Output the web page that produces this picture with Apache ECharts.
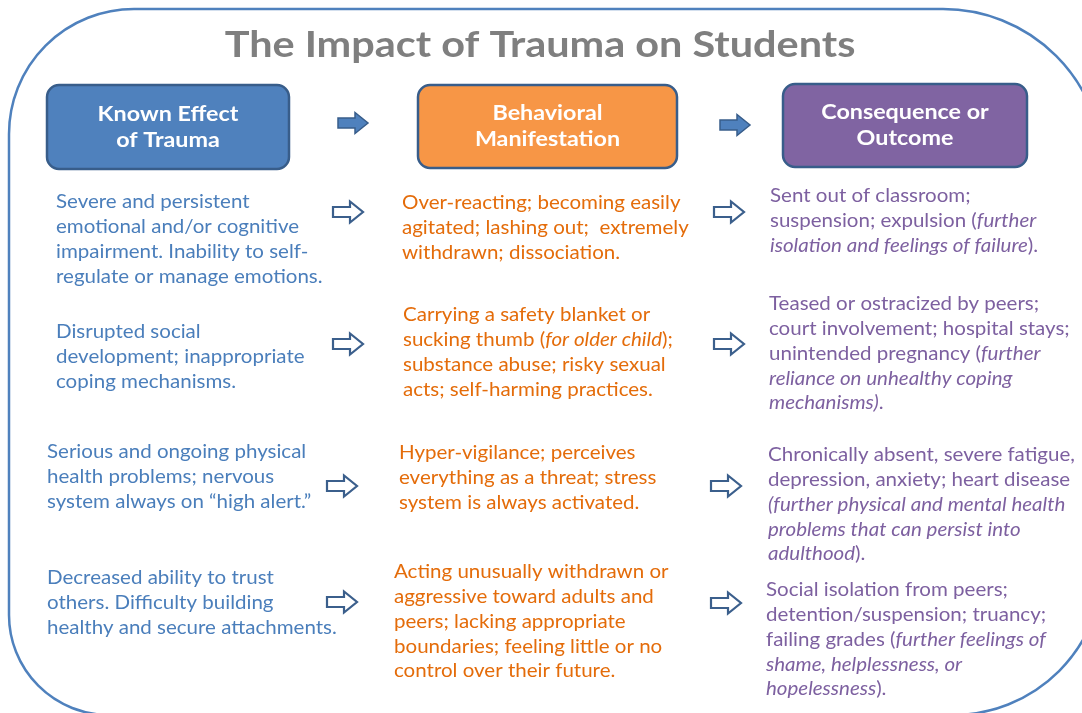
<!DOCTYPE html>
<html>
<head>
<meta charset="utf-8">
<script src="https://cdn.jsdelivr.net/npm/echarts@6/dist/echarts.min.js"></script>
<style>
html,body{margin:0;padding:0;background:#ffffff;}
#chart{width:1082px;height:713px;}
</style>
</head>
<body>
<div id="chart"></div>
<script>
// ---------- content ----------
const TITLE = "The Impact of Trauma on Students";
const HEADERS = [
  ["Known Effect", "of Trauma"],
  ["Behavioral", "Manifestation"],
  ["Consequence or", "Outcome"]
];
// {i|...} marks italic segments
const EFFECTS = [
  ["Severe and persistent", "emotional and/or cognitive", "impairment. Inability to self-", "regulate or manage emotions."],
  ["Disrupted social", "development; inappropriate", "coping mechanisms."],
  ["Serious and ongoing physical", "health problems; nervous", "system always on \u201chigh alert.\u201d"],
  ["Decreased ability to trust", "others. Difficulty building", "healthy and secure attachments."]
];
const BEHAVIORS = [
  ["Over-reacting; becoming easily", "agitated; lashing out;  extremely", "withdrawn; dissociation."],
  ["Carrying a safety blanket or", "sucking thumb ({i|for older child});", "substance abuse; risky sexual", "acts; self-harming practices."],
  ["Hyper-vigilance; perceives", "everything as a threat; stress", "system is always activated."],
  ["Acting unusually withdrawn or", "aggressive toward adults and", "peers; lacking appropriate", "boundaries; feeling little or no", "control over their future."]
];
const CONSEQUENCES = [
  ["Sent out of classroom;", "suspension; expulsion ({i|further}", "{i|isolation and feelings of failure})."],
  ["Teased or ostracized by peers;", "court involvement; hospital stays;", "unintended pregnancy ({i|further}", "{i|reliance on unhealthy coping}", "{i|mechanisms)}."],
  ["Chronically absent, severe fatigue,", "depression, anxiety; heart disease", "{i|(further physical and mental health}", "{i|problems that can persist into}", "{i|adulthood})."],
  ["Social isolation from peers;", "detention/suspension; truancy;", "failing grades ({i|further feelings of}", "{i|shame, helplessness, or}", "{i|hopelessness})."]
];
const COLUMNS = [EFFECTS, BEHAVIORS, CONSEQUENCES];

// ---------- layout & style ----------
const COLORS = {
  frame: '#4f81bd', title: '#7f7f7f',
  boxFill: ['#4f81bd', '#f79646', '#8064a2'], boxStroke: '#385d8a',
  text: ['#4a7ebb', '#e46c0a', '#7d60a0'], arrow: '#3b5f8c'
};
const BOXES = [[47, 85, 242, 84], [418, 85, 259, 83], [783, 84, 244, 83]];
const HEADER_ARROWS = [[338, 123], [720, 125]];
const COL_X = [[56, 56, 47, 47], [402, 403, 399, 394], [770, 769, 768, 766]];
const ROW_Y = [[202, 332, 452, 578], [203, 315, 453, 572], [196, 304, 455, 590]];
const LINE_H = 24.8;
const ROW_ARROWS = [
  [[333, 212], [333, 344], [327, 486], [327, 602]],
  [[714, 212], [714, 344], [711, 486], [711, 603]]
];
const FONT = 'Lato, "Open Sans", sans-serif';
const TITLE_SCALE = 1.15, HEAD_SCALE = 1.11, BODY_SCALE = 1.08;

function arrowPoints(x, cy) {
  return [[x, cy - 5], [x + 17, cy - 5], [x + 17, cy - 10.5], [x + 30, cy],
          [x + 17, cy + 10.5], [x + 17, cy + 5], [x, cy + 5]];
}

const graphic = [];
// frame
graphic.push({
  type: 'rect', shape: { x: 9, y: 9, width: 1094, height: 706, r: [125, 160, 150, 100] },
  style: { fill: 'none', stroke: COLORS.frame, lineWidth: 2.5 }, silent: true
});
// title
graphic.push({
  type: 'text', x: 540, y: 45, scaleX: TITLE_SCALE,
  style: { text: TITLE, fill: COLORS.title, font: 'bold 36px ' + FONT, align: 'center', verticalAlign: 'middle' }
});
// header boxes
BOXES.forEach((b, i) => {
  graphic.push({
    type: 'rect', shape: { x: b[0], y: b[1], width: b[2], height: b[3], r: 12 },
    style: { fill: COLORS.boxFill[i], stroke: COLORS.boxStroke, lineWidth: 2.5 }
  });
  HEADERS[i].forEach((ln, k) => {
    graphic.push({
      type: 'text', x: b[0] + b[2] / 2, y: b[1] + b[3] / 2 - 13 + k * 26, scaleX: HEAD_SCALE,
      style: { text: ln, fill: '#ffffff', font: 'bold 21px ' + FONT, align: 'center', verticalAlign: 'middle' }
    });
  });
});
// header arrows (filled)
HEADER_ARROWS.forEach(a => {
  graphic.push({
    type: 'polygon', shape: { points: arrowPoints(a[0], a[1]) },
    style: { fill: COLORS.frame, stroke: COLORS.boxStroke, lineWidth: 1.5 }
  });
});
// row arrows (hollow)
ROW_ARROWS.forEach(col => col.forEach(a => {
  graphic.push({
    type: 'polygon', shape: { points: arrowPoints(a[0], a[1]) },
    style: { fill: '#ffffff', stroke: COLORS.arrow, lineWidth: 2.2 }
  });
}));
// body text
COLUMNS.forEach((rows, c) => {
  rows.forEach((lines, r) => {
    lines.forEach((ln, k) => {
      graphic.push({
        type: 'text', x: COL_X[c][r], y: ROW_Y[c][r] + k * LINE_H, scaleX: BODY_SCALE,
        style: {
          text: ln, fill: COLORS.text[c], font: '19px ' + FONT,
          align: 'left', verticalAlign: 'middle',
          rich: { i: { fontStyle: 'italic', fontSize: 19, fontFamily: 'Lato', fill: COLORS.text[c] } }
        }
      });
    });
  });
});

const chart = echarts.init(document.getElementById('chart'), null, { renderer: 'canvas' });
chart.setOption({ animation: false, graphic: graphic });
</script>
</body>
</html>
